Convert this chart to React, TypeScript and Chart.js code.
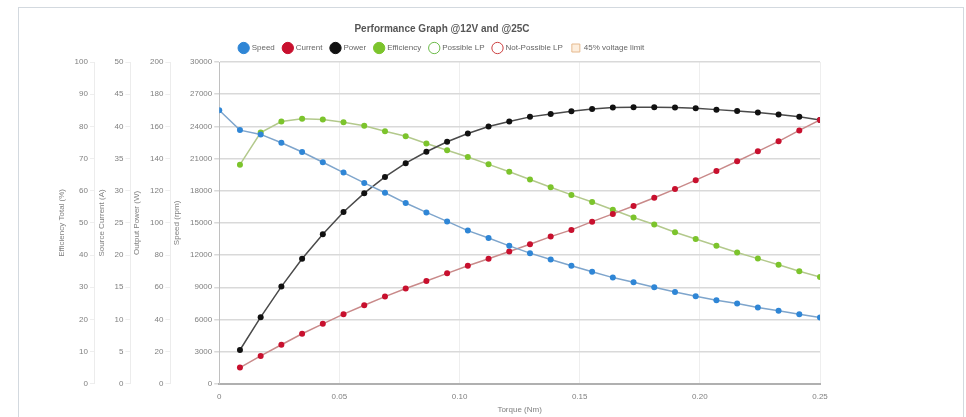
import React, { useEffect, useRef } from "react";
import { Chart, registerables } from "chart.js";

Chart.register(...registerables);

const torque = [0, 0.00862, 0.01724, 0.02586, 0.03448, 0.0431, 0.05172, 0.06034, 0.06897, 0.07759, 0.08621, 0.09483, 0.10345, 0.11207, 0.12069, 0.12931, 0.13793, 0.14655, 0.15517, 0.16379, 0.17241, 0.18103, 0.18966, 0.19828, 0.2069, 0.21552, 0.22414, 0.23276, 0.24138, 0.25];
const speed = [25500, 23650, 23250, 22470, 21610, 20650, 19690, 18730, 17810, 16850, 15980, 15140, 14280, 13590, 12860, 12180, 11590, 11010, 10450, 9900, 9460, 9000, 8560, 8160, 7790, 7480, 7110, 6800, 6490, 6190];
const current = [2.52, 4.33, 6.07, 7.77, 9.32, 10.82, 12.21, 13.55, 14.81, 15.97, 17.16, 18.35, 19.43, 20.56, 21.68, 22.87, 23.91, 25.19, 26.4, 27.62, 28.9, 30.25, 31.64, 33.08, 34.58, 36.12, 37.67, 39.37, 41.0];
const power = [21.0, 41.4, 60.4, 77.7, 93.0, 106.8, 118.5, 128.6, 137.1, 144.2, 150.4, 155.6, 159.9, 163.0, 165.9, 167.7, 169.4, 170.8, 171.7, 171.9, 171.9, 171.7, 171.3, 170.4, 169.6, 168.6, 167.4, 165.9, 164.0];
const efficiency = [68.1, 78.1, 81.5, 82.4, 82.1, 81.3, 80.2, 78.5, 76.9, 74.7, 72.6, 70.5, 68.2, 65.9, 63.5, 61.1, 58.7, 56.5, 54.1, 51.7, 49.5, 47.1, 45.0, 42.9, 40.8, 38.9, 37.0, 35.0, 33.2];

const legendLabels = ["Speed", "Current", "Power", "Efficiency", "Possible LP", "Not-Possible LP", "45% voltage limit"];
const titleText = "Performance Graph @12V and @25C";
const xTitle = "Torque (Nm)";
const axisTitles = ["Efficiency Total (%)", "Source Current (A)", "Output Power (W)", "Speed (rpm)"];

const FONT = 'Arial, "Liberation Sans", sans-serif';
const TXT = "#808080";

export default function App() {
  const ref = useRef<HTMLCanvasElement | null>(null);

  useEffect(() => {
    if (!ref.current) return;
    const tail = torque.slice(1);
    const mk = (xs: number[], ys: number[]) => xs.map((x, i) => ({ x, y: ys[i] }));
    const lineDs = (label: string, data: any[], line: string, pt: string, axis: string) => ({
      label,
      data,
      yAxisID: axis,
      borderColor: line,
      backgroundColor: pt,
      borderWidth: 1.5,
      pointRadius: 3,
      pointBackgroundColor: pt,
      pointBorderColor: pt,
      pointBorderWidth: 0,
      tension: 0,
    });
    const legendStyles = [
      { fill: "#2f86d6", stroke: "#2f86d6", ps: "circle" },
      { fill: "#c8102e", stroke: "#c8102e", ps: "circle" },
      { fill: "#111111", stroke: "#111111", ps: "circle" },
      { fill: "#7cc42c", stroke: "#7cc42c", ps: "circle" },
      { fill: "#ffffff", stroke: "#6dbb4a", ps: "circle" },
      { fill: "#ffffff", stroke: "#cc4040", ps: "circle" },
      { fill: "#fdeedd", stroke: "#e6b98e", ps: "rect" },
    ];
    const yAxis = (title: string, max: number, step: number, weight: number, main: boolean) => ({
      type: "linear",
      position: "left",
      weight,
      min: 0,
      max,
      ticks: {
        stepSize: step,
        padding: 2,
        color: TXT,
        font: { family: FONT, size: 8 },
        callback: (v: any) => String(v),
      },
      grid: {
        drawOnChartArea: main,
        color: main ? "#d9d9d9" : "#eeeeee",
        lineWidth: main ? 1.5 : 1,
        tickLength: 5,
      },
      border: { display: true, color: main ? "#c0c0c0" : "#ececec", width: 1 },
      title: {
        display: true,
        text: title,
        color: TXT,
        font: { family: FONT, size: 8 },
        padding: { top: 2, bottom: 6 },
      },
    });

    const chart = new Chart(ref.current, {
      type: "line",
      data: {
        datasets: [
          lineDs("Speed", mk(torque, speed), "#7ea5cc", "#2f86d6", "ySpeed"),
          lineDs("Current", mk(tail, current), "#c98a8a", "#c8102e", "yCur"),
          lineDs("Power", mk(tail, power), "#4a4a4a", "#111111", "yPow"),
          lineDs("Efficiency", mk(tail, efficiency), "#b3c98c", "#7cc42c", "yEff"),
          { label: "Possible LP", data: [], yAxisID: "ySpeed", borderColor: "#6dbb4a", backgroundColor: "#fff" },
          { label: "Not-Possible LP", data: [], yAxisID: "ySpeed", borderColor: "#cc4040", backgroundColor: "#fff" },
          { label: "45% voltage limit", data: [], yAxisID: "ySpeed", borderColor: "#e6b98e", backgroundColor: "#fdeedd" },
        ],
      } as any,
      options: {
        responsive: false,
        animation: false,
        events: [],
        layout: { padding: { left: 36, right: 0, top: 0, bottom: 4 } },
        plugins: {
          title: {
            display: true,
            text: titleText,
            color: "#555555",
            font: { family: FONT, size: 10, weight: "bold" },
            padding: { top: 15, bottom: 0 },
          },
          legend: {
            display: true,
            labels: {
              usePointStyle: true,
              padding: 9,
              color: "#666666",
              font: { family: FONT, size: 8 },
              generateLabels: () =>
                legendLabels.map((text, i) => ({
                  text,
                  fillStyle: legendStyles[i].fill,
                  strokeStyle: legendStyles[i].stroke,
                  lineWidth: 1,
                  pointStyle: legendStyles[i].ps,
                  hidden: false,
                  datasetIndex: i,
                  fontColor: "#666666",
                })),
            },
          },
          tooltip: { enabled: false },
        },
        scales: {
          x: {
            type: "linear",
            min: 0,
            max: 0.25,
            afterFit: (s: any) => {
              s.paddingRight = 9;
            },
            ticks: {
              stepSize: 0.05,
              padding: 8,
              color: TXT,
              font: { family: FONT, size: 8 },
              callback: (v: any) => (Number(v) === 0 ? "0" : Number(v).toFixed(2)),
            },
            grid: { color: "#eeeeee", drawTicks: false },
            border: { display: true, color: "#b0b0b0", width: 2 },
            title: {
              display: true,
              text: xTitle,
              color: TXT,
              font: { family: FONT, size: 8 },
              padding: { top: -4, bottom: -2 },
            },
          },
          yEff: yAxis(axisTitles[0], 100, 10, 4, false),
          yCur: yAxis(axisTitles[1], 50, 5, 3, false),
          yPow: yAxis(axisTitles[2], 200, 20, 2, false),
          ySpeed: yAxis(axisTitles[3], 30000, 3000, 1, true),
        },
      } as any,
    });
    return () => chart.destroy();
  }, []);

  return (
    <div style={{ position: "absolute", left: 0, top: 0, width: 966, height: 417, overflow: "hidden", background: "#fff" }}>
      <div
        style={{
          position: "absolute",
          left: 18,
          top: 7,
          width: 946,
          height: 430,
          border: "1px solid #d3d9df",
          boxSizing: "border-box",
        }}
      />
      <canvas ref={ref} width={810} height={409} style={{ position: "absolute", left: 19, top: 8, display: "block" }} />
    </div>
  );
}
